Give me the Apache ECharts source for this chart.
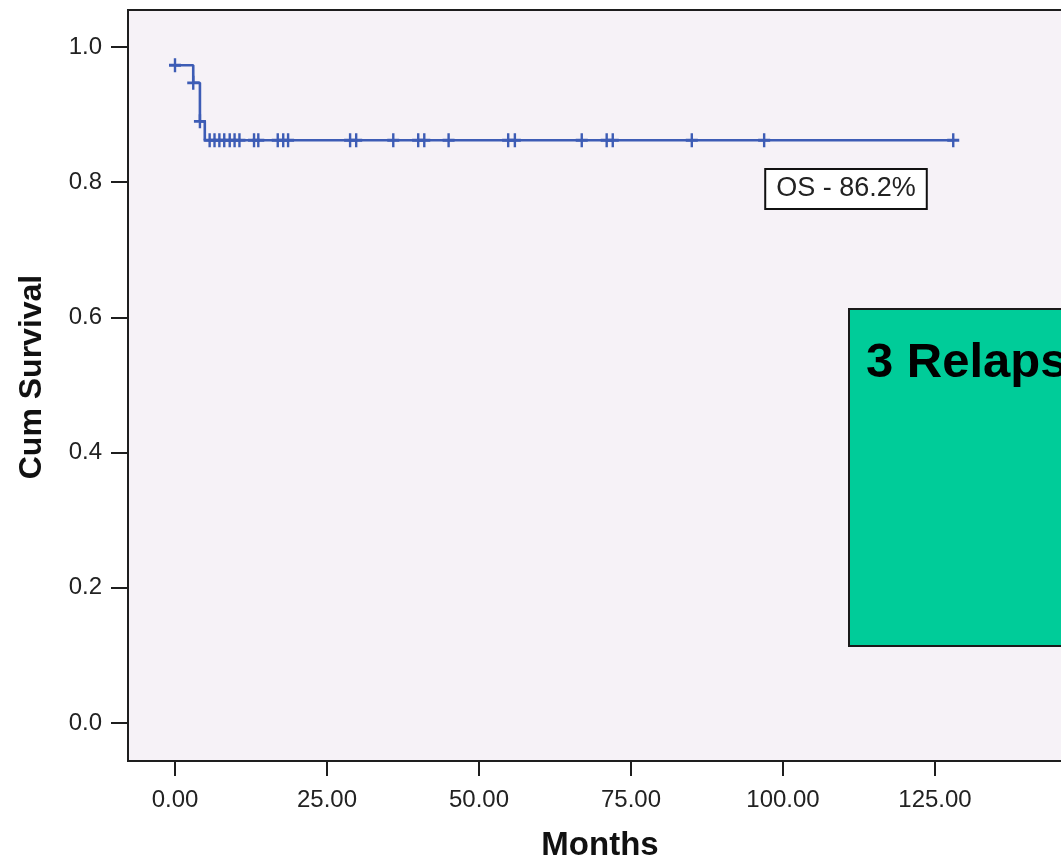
<!DOCTYPE html>
<html>
<head>
<meta charset="utf-8">
<script src="https://cdn.jsdelivr.net/npm/echarts@6/dist/echarts.min.js"></script>
<style>
  html, body { margin: 0; padding: 0; background: #ffffff; }
  #chart { width: 1061px; height: 863px; }
</style>
</head>
<body>
<div id="chart"></div>
<script>
// ---- data ----
const stepTimes = [0, 3.0, 4.1, 4.9];            // months at which survival drops
const stepSurv  = [0.973, 0.947, 0.890, 0.862];  // survival after each drop
const lastTime  = 128;                           // end of follow-up
const censorTimes = [0, 3.0, 4.1, 5.7, 6.5, 7.3, 8.1, 9.0, 9.8, 10.6, 13.0, 13.7,
  16.9, 17.8, 18.6, 28.8, 29.8, 35.9, 40.0, 41.0, 45.0, 54.8, 55.9, 66.9, 71.0,
  72.0, 85.0, 96.9, 128.0];
const xTicks = [0, 25, 50, 75, 100, 125];
const yTicks = [0, 0.2, 0.4, 0.6, 0.8, 1.0];
const xRange = [-7.73, 150];
const yRange = [-0.0562, 1.0547];
const xTitle = 'Months';
const yTitle = 'Cum Survival';
const osLabel = 'OS - 86.2%';
const boxLabel = '3 Relapses';

function survivalAt(t) {
  let s = 1;
  for (let i = 0; i < stepTimes.length; i++) if (stepTimes[i] <= t) s = stepSurv[i];
  return s;
}
const lineData = stepTimes.map((t, i) => [t, stepSurv[i]]);
lineData.push([lastTime, survivalAt(lastTime)]);
const censorData = censorTimes.map(t => [t, survivalAt(t)]);

const FONT = '"Liberation Sans", Arial, sans-serif';
const CURVE = '#3d5cb5';
const AXIS = '#1e1e1e';

const chart = echarts.init(document.getElementById('chart'), null, { renderer: 'canvas' });
chart.setOption({
  backgroundColor: '#ffffff',
  animation: false,
  grid: {
    left: 128, top: 10, width: 959, height: 751, containLabel: false,
    outerBoundsMode: 'none',
    show: true, backgroundColor: '#f6f2f7', borderColor: AXIS, borderWidth: 2
  },
  xAxis: {
    type: 'value', min: xRange[0], max: xRange[1],
    axisLine: { show: true, onZero: false, lineStyle: { color: AXIS, width: 2 } },
    axisTick: { show: true, length: 15, customValues: xTicks, lineStyle: { color: AXIS, width: 2 } },
    axisLabel: {
      show: true, margin: 27, customValues: xTicks,
      formatter: v => Number(v).toFixed(2),
      color: '#222', fontSize: 24, fontFamily: FONT
    },
    splitLine: { show: false }
  },
  yAxis: {
    type: 'value', min: yRange[0], max: yRange[1],
    axisLine: { show: true, onZero: false, lineStyle: { color: AXIS, width: 2 } },
    axisTick: { show: true, length: 17, customValues: yTicks, lineStyle: { color: AXIS, width: 2 } },
    axisLabel: {
      margin: 26, customValues: yTicks,
      formatter: v => Number(v).toFixed(1),
      color: '#222', fontSize: 24, fontFamily: FONT
    },
    splitLine: { show: false }
  },
  graphic: [
    { type: 'text', z: 10, silent: true,
      style: { x: 600, y: 846, text: xTitle, align: 'center', verticalAlign: 'middle',
        font: 'bold 33px ' + FONT, fill: '#111' } },
    { type: 'text', z: 10, silent: true, x: 32, y: 377, rotation: Math.PI / 2,
      style: { x: 0, y: 0, text: yTitle, align: 'center', verticalAlign: 'middle',
        font: 'bold 32px ' + FONT, fill: '#111' } },
    { type: 'text', z: 10, silent: true,
      style: { x: 846, y: 189, text: osLabel, align: 'center', verticalAlign: 'middle',
        font: '27px ' + FONT, fill: '#222',
        backgroundColor: '#ffffff', borderColor: '#111', borderWidth: 2,
        padding: [6, 10, 5, 10] } },
    { type: 'rect', z: 10, silent: true,
      shape: { x: 849, y: 309, width: 240, height: 337 },
      style: { fill: '#00cc99', stroke: '#1a1a1a', lineWidth: 2 } },
    { type: 'text', z: 11, silent: true,
      style: { x: 866, y: 363, text: boxLabel, align: 'left', verticalAlign: 'middle',
        font: 'bold 49px ' + FONT, fill: '#000' } }
  ],
  series: [
    { type: 'line', data: lineData, step: 'end', clip: false,
      symbol: 'none', lineStyle: { color: CURVE, width: 2.6 }, z: 3 },
    { type: 'scatter', data: censorData, clip: false,
      symbol: 'path://M4.8,0h2.4v12h-2.4zM0,4.8h12v2.4h-12z', symbolSize: [12, 14],
      itemStyle: { color: CURVE, opacity: 1 }, z: 4 }
  ]
});
</script>
</body>
</html>
